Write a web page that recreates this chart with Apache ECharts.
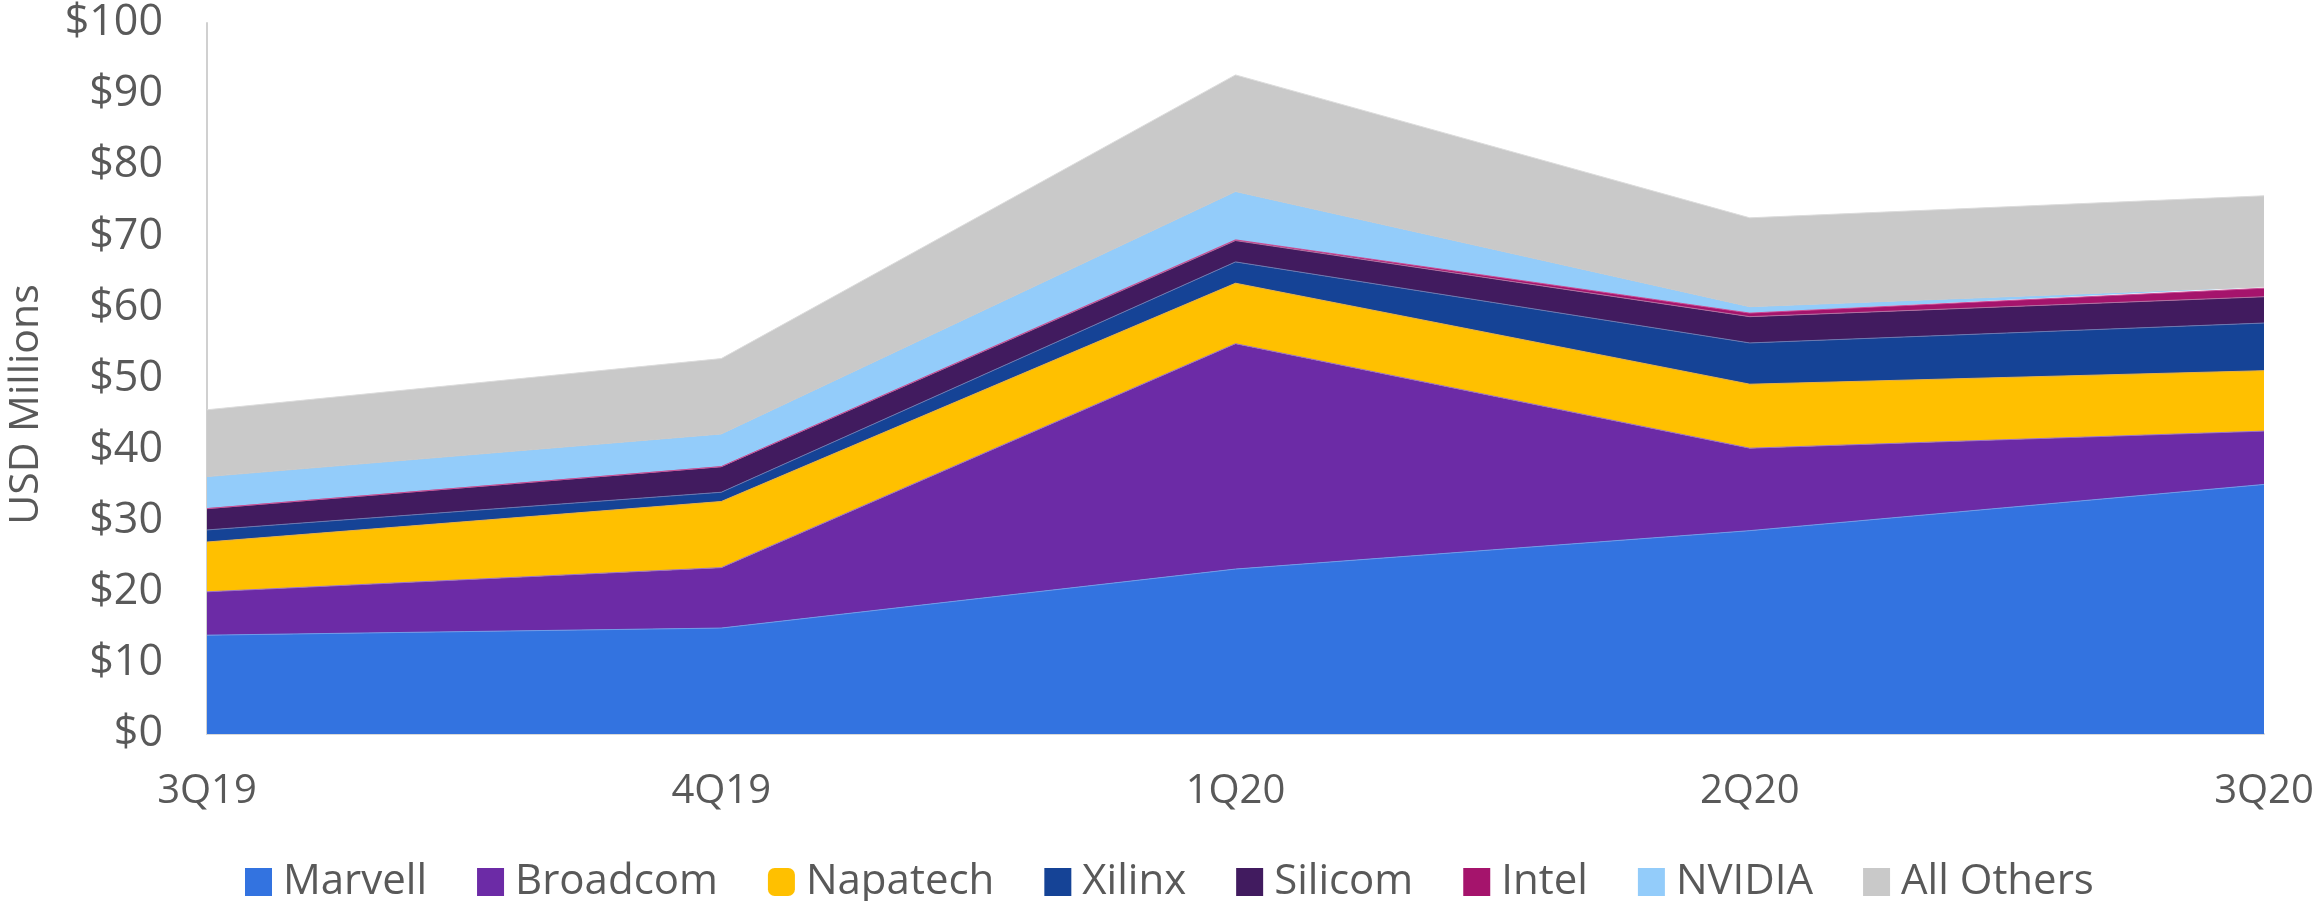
<!DOCTYPE html>
<html>
<head>
<meta charset="utf-8">
<script src="https://cdn.jsdelivr.net/npm/echarts@6/dist/echarts.min.js"></script>
<style>
  html, body { margin: 0; padding: 0; background: #fff; }
  #chart { width: 2323px; height: 901px; }
</style>
</head>
<body>
<div id="chart"></div>
<script>
// quarters on the x axis
var quarters = ['3Q19', '4Q19', '1Q20', '2Q20', '3Q20']

// revenue per vendor, USD millions
var marvell = [13.9, 14.9, 23.2, 28.6, 35.1]
var broadcom = [6.1, 8.5, 31.7, 11.6, 7.5]
var napatech = [7.0, 9.3, 8.5, 9.0, 8.5]
var xilinx = [1.7, 1.3, 3.0, 5.8, 6.7]
var silicom = [3.0, 3.6, 3.0, 3.7, 3.7]
var intel = [0, 0, 0.1, 0.5, 1.2]
var nvidia = [4.5, 4.6, 6.8, 0.9, 0.2]
var allOthers = [9.4, 10.6, 16.4, 12.5, 12.8]

// y axis ticks
var yMin = 0
var yMax = 100
var yStep = 10

var font = 'Open Sans'
var textColor = '#595959'

function area (name, data, color, edge) {
  return {
    name: name,
    type: 'line',
    stack: 'total',
    data: data,
    symbol: 'none',
    smooth: false,
    lineStyle: { width: 1, color: edge },
    itemStyle: { color: color },
    areaStyle: { color: color, opacity: 1 },
    emphasis: { disabled: true }
  }
}

var chart = echarts.init(document.getElementById('chart'))
var option = {
  animation: false,
  grid: { left: 207, right: 59, top: 23, bottom: 167, outerBoundsMode: 'none', containLabel: false },
  legend: {
    top: 856,
    left: 240,
    itemWidth: 27,
    itemHeight: 28,
    itemGap: 50,
    icon: 'rect',
    textStyle: { fontFamily: font, fontSize: 42, color: textColor, padding: [0, 0, 0, 6] },
    data: [
      'Marvell', 'Broadcom',
      { name: 'Napatech', icon: 'roundRect' },
      'Xilinx', 'Silicom', 'Intel', 'NVIDIA', 'All Others'
    ]
  },
  xAxis: {
    type: 'category',
    boundaryGap: false,
    data: quarters,
    axisLine: { lineStyle: { color: '#d9d9d9', width: 2 } },
    axisTick: { show: false },
    axisLabel: { fontFamily: font, fontSize: 40, color: textColor, margin: 38 }
  },
  yAxis: {
    type: 'value',
    min: yMin,
    max: yMax,
    interval: yStep,
    name: 'USD Millions',
    nameLocation: 'middle',
    nameGap: 160,
    nameTextStyle: { fontFamily: font, fontSize: 41, color: textColor, padding: [0, 52, 0, 0] },
    axisLine: { show: true, lineStyle: { color: '#d0d0d0', width: 2 } },
    axisTick: { show: false },
    splitLine: { show: false },
    axisLabel: {
      fontFamily: font,
      fontSize: 43,
      color: textColor,
      margin: 44,
      formatter: function (v) { return '$' + v }
    }
  },
  series: [
    area('Marvell', marvell, '#3373e0', '#6f9be8'),
    area('Broadcom', broadcom, '#6c2ba6', '#9a72c4'),
    area('Napatech', napatech, '#ffc000', '#e8b040'),
    area('Xilinx', xilinx, '#154396', '#6a78b0'),
    area('Silicom', silicom, '#411b5f', '#b070a0'),
    area('Intel', intel, '#a5146c', '#c84c94'),
    area('NVIDIA', nvidia, '#93ccfa', '#c9c9c9'),
    area('All Others', allOthers, '#c9c9c9', '#dcdcdc')
  ]
}
chart.setOption(option)
</script>
</body>
</html>
